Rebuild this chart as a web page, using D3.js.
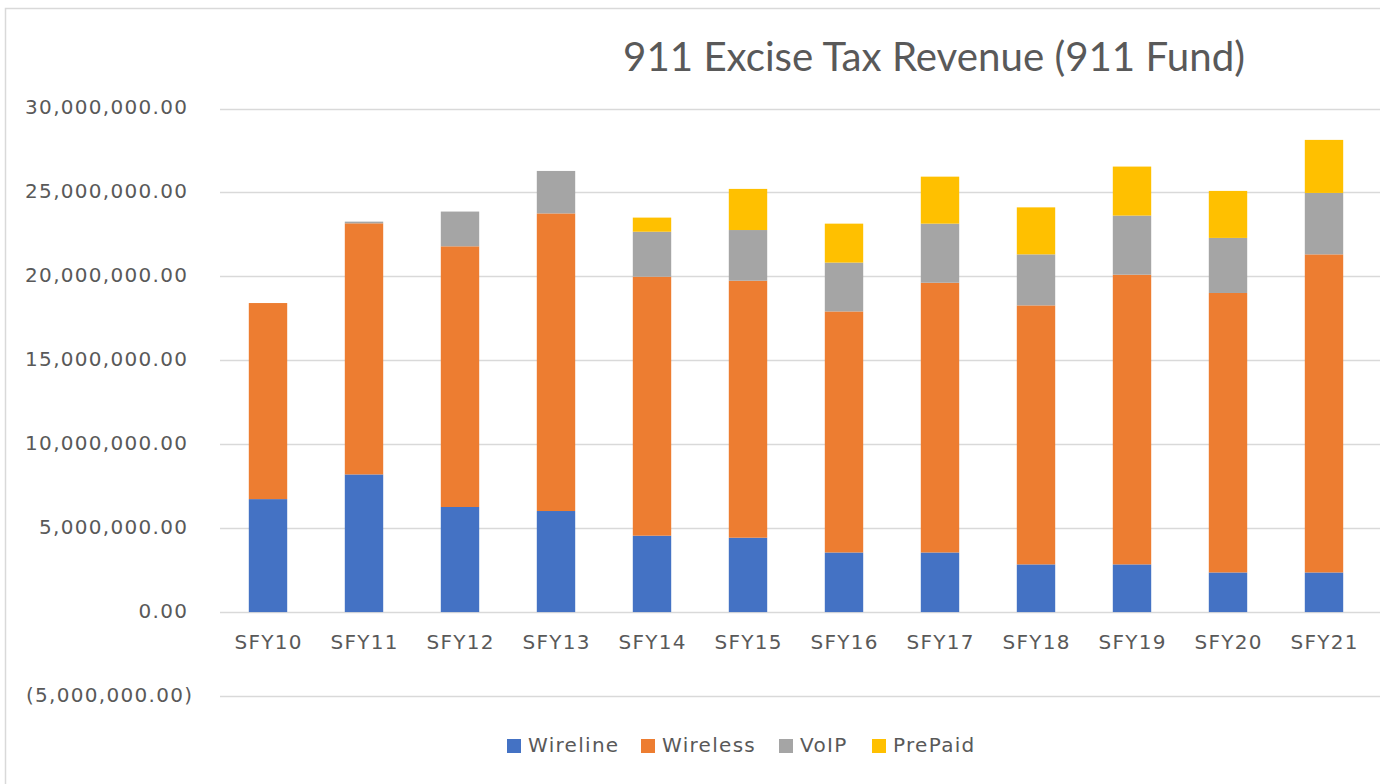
<!DOCTYPE html>
<html>
<head>
<meta charset="utf-8">
<script src="https://cdn.jsdelivr.net/npm/d3@7"></script>
<style>
  html, body { margin: 0; padding: 0; background: #fff; }
  svg { display: block; font-family: "DejaVu Sans", sans-serif; }
</style>
</head>
<body>
<div id="chart"></div>
<script>
const years    = ['SFY10','SFY11','SFY12','SFY13','SFY14','SFY15','SFY16','SFY17','SFY18','SFY19','SFY20','SFY21']
const seriesNames = ['Wireline','Wireless','VoIP','PrePaid']
const wireline = [6730000, 8200000, 6260000, 6020000, 4550000, 4430000, 3550000, 3550000, 2840000, 2840000, 2360000, 2360000]
const wireless = [11680000, 14960000, 15530000, 17730000, 15430000, 15310000, 14360000, 16070000, 15430000, 17260000, 16650000, 18950000]
const voip     = [0, 100000, 2070000, 2530000, 2680000, 3020000, 2910000, 3520000, 3040000, 3520000, 3280000, 3660000]
const prepaid  = [0, 0, 0, 0, 840000, 2450000, 2320000, 2800000, 2800000, 2920000, 2800000, 3160000]
const yTicks   = [-5000000, 0, 5000000, 10000000, 15000000, 20000000, 25000000, 30000000]
const colors   = ['#4472C4', '#ED7D31', '#A5A5A5', '#FFC000']
const title    = '911 Excise Tax Revenue (911 Fund)'

const W = 1380, H = 784
const MARGIN = { top: 108.5, left: 220, right: 8, bottom: 88 }
const LS = 1.3  // extra letter spacing to match the wide Excel rendering

const svg = d3.select('#chart').append('svg').attr('width', W).attr('height', H)

// outer chart frame (only top/left edges fall inside the picture)
svg.append('rect')
  .attr('x', 5.5).attr('y', 8.5)
  .attr('width', W + 20).attr('height', H + 20)
  .attr('fill', 'none').attr('stroke', '#d9d9d9').attr('stroke-width', 1.5)

const x = d3.scaleBand().domain(years).range([MARGIN.left, MARGIN.left + 96 * years.length]).paddingInner(0.6).paddingOuter(0.3)
const y = d3.scaleLinear().domain([-5000000, 30000000]).range([H - MARGIN.bottom, MARGIN.top])

// grid
svg.append('g').selectAll('line').data(yTicks).join('line')
  .attr('x1', MARGIN.left).attr('x2', W)
  .attr('y1', d => Math.round(y(d)) + 0.5).attr('y2', d => Math.round(y(d)) + 0.5)
  .attr('stroke', '#d9d9d9').attr('stroke-width', 1.5)

// y labels
const fmt = d3.format(',.2f')
svg.append('g').selectAll('text').data(yTicks).join('text')
  .attr('x', d => (d < 0 ? 192 : 187) + LS)
  .attr('y', d => y(d))
  .attr('text-anchor', 'end')
  .attr('dominant-baseline', 'middle')
  .attr('font-size', 20)
  .attr('letter-spacing', LS)
  .attr('fill', '#595959')
  .text(d => d < 0 ? `(${fmt(-d)})` : fmt(d))

// stacked bars
const table = years.map((yr, i) => ({ year: yr, Wireline: wireline[i], Wireless: wireless[i], VoIP: voip[i], PrePaid: prepaid[i] }))
const stacked = d3.stack().keys(seriesNames)(table)

svg.append('g').selectAll('g').data(stacked).join('g')
  .attr('fill', (_, i) => colors[i])
  .selectAll('rect').data(d => d).join('rect')
  .attr('x', d => x(d.data.year))
  .attr('width', x.bandwidth())
  .attr('y', d => y(d[1]))
  .attr('height', d => Math.max(0, y(d[0]) - y(d[1])))

// x labels
svg.append('g').selectAll('text').data(years).join('text')
  .attr('x', d => x(d) + x.bandwidth() / 2 + LS / 2)
  .attr('y', 643)
  .attr('text-anchor', 'middle')
  .attr('dominant-baseline', 'middle')
  .attr('font-size', 20)
  .attr('letter-spacing', LS)
  .attr('fill', '#595959')
  .text(d => d)

// title
const t = svg.append('text')
  .attr('x', 934).attr('y', 61)
  .attr('text-anchor', 'middle')
  .attr('dominant-baseline', 'middle')
  .attr('font-family', 'Lato, "Open Sans", sans-serif')
  .attr('font-size', 34)
  .attr('fill', '#595959')
  .text(title)
const tw = t.node().getComputedTextLength()
t.attr('font-size', 34 * 622 / tw)

// legend
const legendX = [507, 641, 779, 872]
const lg = svg.append('g').selectAll('g').data(seriesNames).join('g')
  .attr('transform', (_, i) => `translate(${legendX[i]},746)`)
lg.append('rect').attr('x', 0).attr('y', -7).attr('width', 14).attr('height', 14).attr('fill', (_, i) => colors[i])
lg.append('text').attr('x', 21).attr('y', 0)
  .attr('dominant-baseline', 'middle')
  .attr('font-size', 20)
  .attr('letter-spacing', LS)
  .attr('fill', '#595959')
  .text(d => d)
</script>
</body>
</html>
